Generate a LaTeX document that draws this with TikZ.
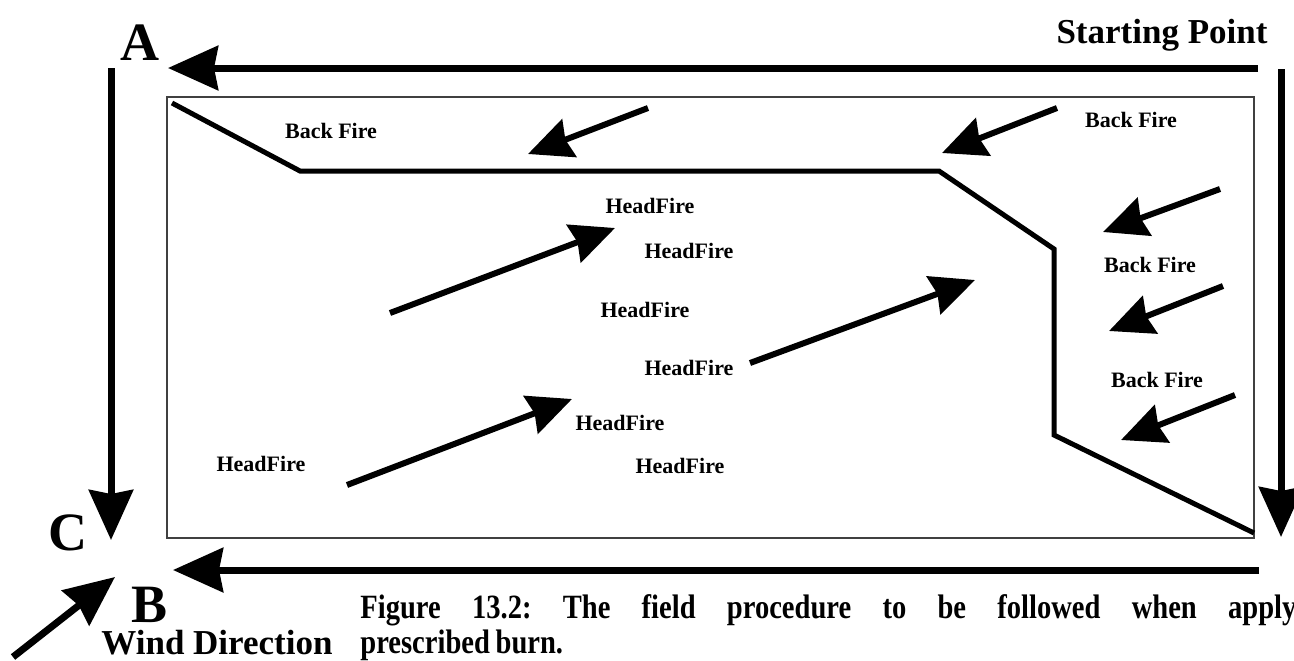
\documentclass[tikz,border=0pt]{standalone}
\usepackage{fontspec}
\setmainfont{Liberation Serif}
\newfontfamily\capfont[FakeStretch=0.84]{Liberation Serif}
\usepackage{tikz}
\usetikzlibrary{arrows.meta,positioning}
\frenchspacing

\begin{document}
\begin{tikzpicture}[x=0.5pt,y=-0.5pt,
  main arrow/.style={line width=3.5pt,-{Stealth[length=25pt,width=22pt,inset=2pt]}},
  fire arrow/.style={line width=3pt,-{Stealth[length=22pt,width=20pt,inset=2pt]}},
  corner label/.style={anchor=base,inner sep=0pt,font=\fontsize{27}{30}\selectfont\bfseries},
  big label/.style={anchor=base,inner sep=0pt,font=\fontsize{17.5}{20}\selectfont\bfseries},
  fire label/.style={anchor=base,inner sep=0pt,font=\fontsize{11}{13}\selectfont\bfseries},
  caption line/.style={anchor=base west,inner sep=0pt,font=\capfont\fontsize{17}{17}\selectfont\bfseries}]
\useasboundingbox (0,0) rectangle (1294,660);
% field and fire line
\draw[black!75,line width=0.7pt] (167,97) rectangle (1254,538);
\draw[line width=2.5pt] (172,103) -- (300,171) -- (939,171) -- (1054,249) -- (1054,435) -- (1254,533);
\begin{scope}
\node[corner label] (lA) at (140,60) {A};
\node[corner label] (lC) at (68,550) {C};
\node[corner label] (lB) at (150,622) {B};
\node[big label] (start) at (1162,43) {Starting Point};
\node[big label] (wind) at (217,654) {Wind Direction};
\node[fire label] (bf1) at (331,138) {Back Fire};
\node[fire label] (bf2) at (1131,127) {Back Fire};
\node[fire label] (bf3) at (1150,272) {Back Fire};
\node[fire label] (bf4) at (1157,387) {Back Fire};
\node[fire label] (hf1) at (650,213) {HeadFire};
\node[fire label] (hf2) at (689,258) {HeadFire};
\node[fire label] (hf3) at (645,317) {HeadFire};
\node[fire label] (hf4) at (689,375) {HeadFire};
\node[fire label] (hf5) at (620,430) {HeadFire};
\node[fire label] (hf6) at (680,473) {HeadFire};
\node[fire label] (hf7) at (261,471) {HeadFire};
\node[caption line] (cap1) at (360,618)
  {\makebox[468pt][s]{Figure 13.2: The field procedure to be followed when apply}};
\node[caption line] (cap2) at (360,653) {prescribed\,burn.};
\end{scope}
% ends of the arrows
\coordinate (top0) at (1258,68);   \coordinate (top1) at (168,68);
\coordinate (lft0) at (111,68);    \coordinate (lft1) at (111,540);
\coordinate (rgt0) at (1281,69);   \coordinate (rgt1) at (1281,537);
\coordinate (bot0) at (1259,570);  \coordinate (bot1) at (173,570);
\coordinate (wnd0) at (13,657);    \coordinate (wnd1) at (115,577);
\coordinate (b10) at (648,108);    \coordinate (b11) at (528,154);
\coordinate (b20) at (1057,108);   \coordinate (b21) at (942,153);
\coordinate (b30) at (1220,189);   \coordinate (b31) at (1103,232);
\coordinate (b40) at (1223,286);   \coordinate (b41) at (1109,331);
\coordinate (b50) at (1235,395);   \coordinate (b51) at (1121,440);
\coordinate (h10) at (390,313);    \coordinate (h11) at (615,228);
\coordinate (h20) at (347,485);    \coordinate (h21) at (572,399);
\coordinate (h30) at (750,363);    \coordinate (h31) at (975,280);
\begin{scope}
\draw[main arrow] (top0) -- (top1);
\draw[main arrow] (lft0) -- (lft1);
\draw[main arrow] (rgt0) -- (rgt1);
\draw[main arrow] (bot0) -- (bot1);
\draw[main arrow] (wnd0) -- (wnd1);
\draw[fire arrow] (b10) -- (b11);
\draw[fire arrow] (b20) -- (b21);
\draw[fire arrow] (b30) -- (b31);
\draw[fire arrow] (b40) -- (b41);
\draw[fire arrow] (b50) -- (b51);
\draw[fire arrow] (h10) -- (h11);
\draw[fire arrow] (h20) -- (h21);
\draw[fire arrow] (h30) -- (h31);
\end{scope}
\end{tikzpicture}
\end{document}
